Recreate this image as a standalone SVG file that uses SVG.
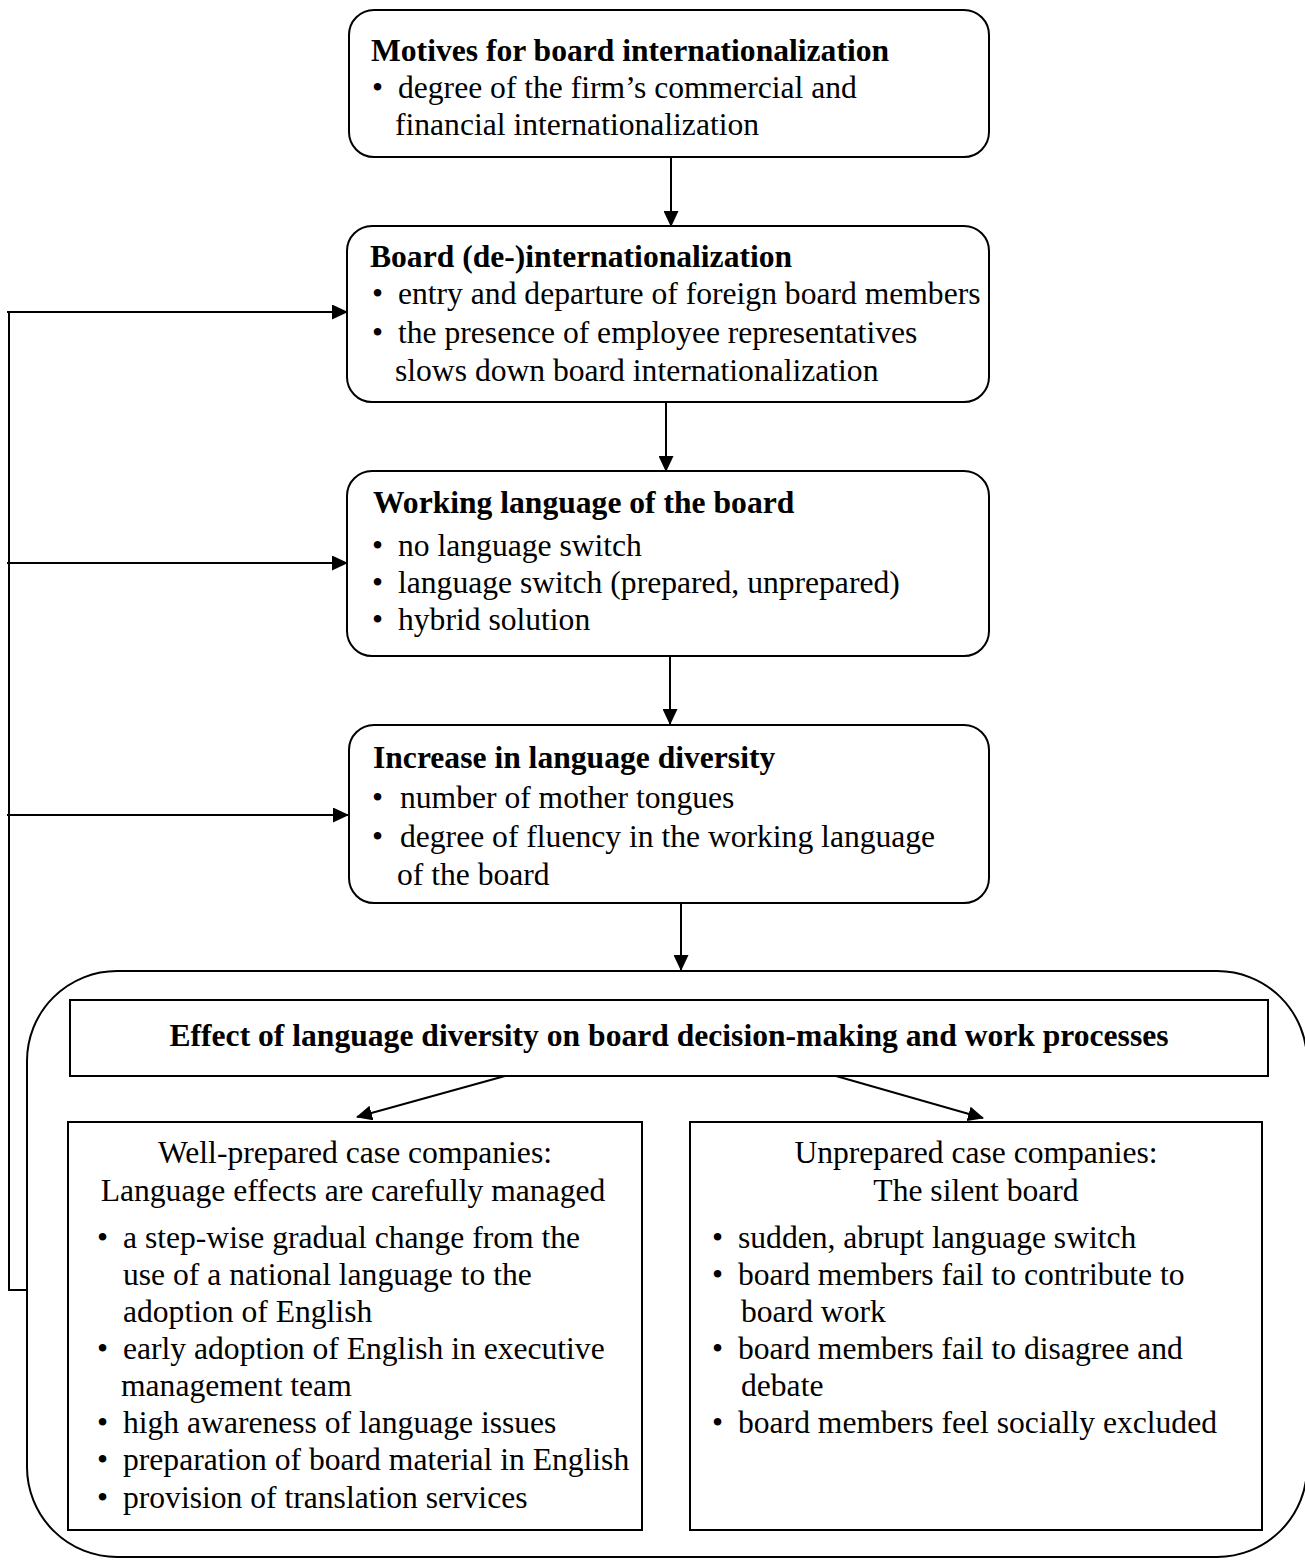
<svg xmlns="http://www.w3.org/2000/svg" width="1305" height="1560" viewBox="0 0 1305 1560">
<style>
text{font-family:"Liberation Serif","Times New Roman",serif;font-size:31.6px;fill:#000}
.b{font-weight:bold}
.box{fill:#fff;stroke:#000;stroke-width:2}
.ln{fill:none;stroke:#000;stroke-width:2}
.ar{fill:none;stroke:#000;stroke-width:2;marker-end:url(#ah)}
</style>
<defs>
<marker id="ah" viewBox="0 0 16 15" refX="15" refY="7.5" markerWidth="16" markerHeight="15" markerUnits="userSpaceOnUse" orient="auto">
<path d="M0,0 L16,7.5 L0,15 Z" fill="#000"/>
</marker>
</defs>
<rect width="1305" height="1560" fill="#fff"/>

<g id="container">
<rect class="box" x="27" y="971" width="1280" height="586" rx="90" ry="90"/>
</g>

<g id="connectors">
<line class="ar" x1="671" y1="157" x2="671" y2="226"/>
<line class="ar" x1="666" y1="402" x2="666" y2="471"/>
<line class="ar" x1="670" y1="656" x2="670" y2="724"/>
<line class="ar" x1="681" y1="903" x2="681" y2="970"/>
<polyline class="ln" points="27,1290 9,1290 9,312"/>
<line class="ar" x1="7" y1="312" x2="347" y2="312"/>
<line class="ar" x1="7" y1="563" x2="347" y2="563"/>
<line class="ar" x1="7" y1="815" x2="348" y2="815"/>
<line class="ar" x1="505" y1="1076" x2="357" y2="1117"/>
<line class="ar" x1="836" y1="1076" x2="983" y2="1118"/>
</g>

<g id="motives">
<rect class="box" x="349" y="10" width="640" height="147" rx="25"/>
<text class="b" x="371" y="61">Motives for board internationalization</text>
<text x="372" y="98">•</text><text x="398" y="98">degree of the firm’s commercial and</text>
<text x="395" y="135">financial internationalization</text>
</g>

<g id="board-intl">
<rect class="box" x="347" y="226" width="642" height="176" rx="25"/>
<text class="b" x="370" y="267">Board (de-)internationalization</text>
<text x="372" y="304">•</text><text x="398" y="304">entry and departure of foreign board members</text>
<text x="372" y="343">•</text><text x="398" y="343">the presence of employee representatives</text>
<text x="395" y="381">slows down board internationalization</text>
</g>

<g id="working-language">
<rect class="box" x="347" y="471" width="642" height="185" rx="25"/>
<text class="b" x="373" y="513">Working language of the board</text>
<text x="372" y="556">•</text><text x="398" y="556">no language switch</text>
<text x="372" y="593">•</text><text x="398" y="593">language switch (prepared, unprepared)</text>
<text x="372" y="630">•</text><text x="398" y="630">hybrid solution</text>
</g>

<g id="diversity">
<rect class="box" x="349" y="725" width="640" height="178" rx="25"/>
<text class="b" x="373" y="768">Increase in language diversity</text>
<text x="372" y="808">•</text><text x="400" y="808">number of mother tongues</text>
<text x="372" y="847">•</text><text x="400" y="847">degree of fluency in the working language</text>
<text x="397" y="885">of the board</text>
</g>

<g id="effect-header">
<rect class="box" x="70" y="1000" width="1198" height="76"/>
<text class="b" x="669" y="1046" text-anchor="middle">Effect of language diversity on board decision-making and work processes</text>
</g>

<g id="well-prepared">
<rect class="box" x="68" y="1122" width="574" height="408"/>
<text x="355" y="1163" text-anchor="middle">Well-prepared case companies:</text>
<text x="353" y="1201" text-anchor="middle">Language effects are carefully managed</text>
<text x="97" y="1248">•</text><text x="123" y="1248">a step-wise gradual change from the</text>
<text x="123" y="1285">use of a national language to the</text>
<text x="123" y="1322">adoption of English</text>
<text x="97" y="1359">•</text><text x="123" y="1359">early adoption of English in executive</text>
<text x="121" y="1396">management team</text>
<text x="97" y="1433">•</text><text x="123" y="1433">high awareness of language issues</text>
<text x="97" y="1470">•</text><text x="123" y="1470">preparation of board material in English</text>
<text x="97" y="1508">•</text><text x="123" y="1508">provision of translation services</text>
</g>

<g id="unprepared">
<rect class="box" x="690" y="1122" width="572" height="408"/>
<text x="976" y="1163" text-anchor="middle">Unprepared case companies:</text>
<text x="976" y="1201" text-anchor="middle">The silent board</text>
<text x="712" y="1248">•</text><text x="738" y="1248">sudden, abrupt language switch</text>
<text x="712" y="1285">•</text><text x="738" y="1285">board members fail to contribute to</text>
<text x="741" y="1322">board work</text>
<text x="712" y="1359">•</text><text x="738" y="1359">board members fail to disagree and</text>
<text x="741" y="1396">debate</text>
<text x="712" y="1433">•</text><text x="738" y="1433">board members feel socially excluded</text>
</g>
</svg>
